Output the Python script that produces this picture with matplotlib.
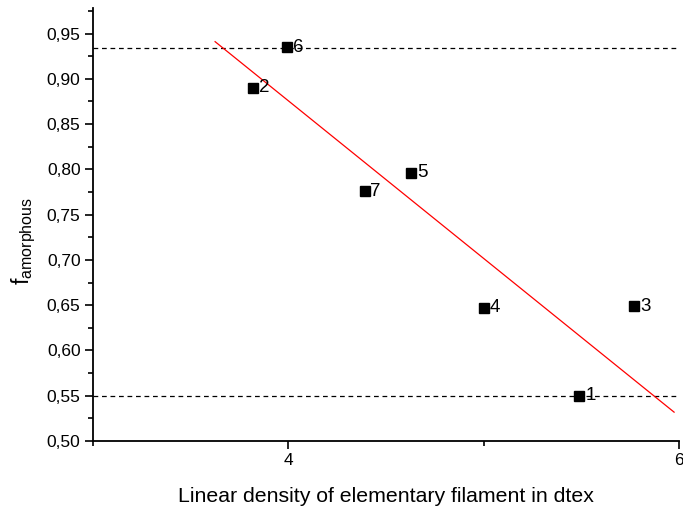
import numpy as np
import matplotlib
matplotlib.use("Agg")
import matplotlib.pyplot as plt
from matplotlib.ticker import MultipleLocator, FuncFormatter

plt.rcParams['font.family'] = ['Liberation Sans', 'DejaVu Sans']
plt.rcParams['mathtext.fontset'] = 'custom'
plt.rcParams['mathtext.rm'] = 'Liberation Sans'
plt.rcParams['mathtext.it'] = 'Liberation Sans:italic'

# Sample data: linear density (dtex) vs amorphous orientation factor
sample_ids = ["1", "2", "3", "4", "5", "6", "7"]
linear_density = [5.49, 3.82, 5.77, 5.00, 4.63, 3.995, 4.39]
f_amorphous = [0.550, 0.890, 0.649, 0.647, 0.796, 0.935, 0.776]

# Reference levels (dashed) and range over which the fit line is drawn
reference_levels = [0.550, 0.934]
fit_range = [3.625, 5.975]

fig = plt.figure(figsize=(6.83, 5.11), dpi=100)
ax = fig.add_axes([0.1362, 0.137, 0.8579, 0.847])

# dashed reference levels
for lvl in reference_levels:
    ax.axhline(lvl, color='black', linestyle=(0, (3.8, 3)), linewidth=0.9, zorder=1)

# least-squares fit line
slope, intercept = np.polyfit(linear_density, f_amorphous, 1)
xf = np.array(fit_range)
ax.plot(xf, slope * xf + intercept, color='red', linewidth=0.9, zorder=2)

# data points with sample numbers
ax.plot(linear_density, f_amorphous, linestyle='none', marker='s',
        markersize=7.2, color='black', zorder=3)
for sid, xv, yv in zip(sample_ids, linear_density, f_amorphous):
    ax.annotate(sid, (xv, yv), xytext=(4.3, 0), textcoords='offset points',
                ha='left', va='center', fontsize=13.5, zorder=4)

ax.set_xlim(3, 6)
ax.set_ylim(0.5, 0.978)

ax.xaxis.set_major_locator(MultipleLocator(2))
ax.xaxis.set_minor_locator(MultipleLocator(1))
ax.yaxis.set_major_locator(MultipleLocator(0.05))
ax.yaxis.set_minor_locator(MultipleLocator(0.025))
ax.yaxis.set_major_formatter(FuncFormatter(lambda v, p: f"{v:.2f}".replace('.', ',')))

ax.spines['top'].set_visible(False)
ax.spines['right'].set_visible(False)
for s in ('left', 'bottom'):
    ax.spines[s].set_linewidth(1.3)

ax.tick_params(axis='both', which='major', direction='out', length=6, width=1.2,
               labelsize=12.5, pad=3)
ax.tick_params(axis='both', which='minor', direction='out', length=3.5, width=1.2)

ax.set_xlabel("Linear density of elementary filament in dtex", fontsize=15.3, labelpad=13.5)
ax.set_ylabel(r"f$_\mathregular{amorphous}$", fontsize=16.5)
ax.yaxis.set_label_coords(-0.094, 0.462)

fig.savefig("out.png", dpi=100)
